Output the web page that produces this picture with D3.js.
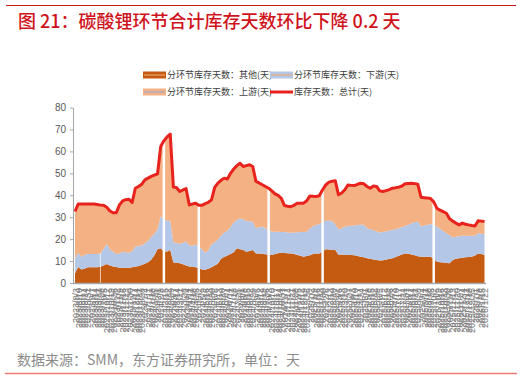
<!DOCTYPE html>
<html><head><meta charset="utf-8">
<script src="https://cdn.jsdelivr.net/npm/d3@7"></script>
<style>body{margin:0;background:#fff}svg{display:block}</style>
</head><body><svg id="c" width="522" height="380"></svg>
<script>
const dates = [
"2023/8/3","2023/8/10","2023/8/17","2023/8/24","2023/8/31","2023/9/7","2023/9/14","2023/9/21","2023/9/28","2023/10/5","2023/10/12","2023/10/19","2023/10/26","2023/11/2","2023/11/9","2023/11/16","2023/11/23","2023/11/30","2023/12/7","2023/12/14","2023/12/21","2023/12/28",
"2024/1/4","2024/1/11","2024/1/18","2024/1/25","2024/2/1","2024/2/8","2024/2/15","2024/2/22","2024/2/29","2024/3/7","2024/3/14","2024/3/21","2024/3/28","2024/4/4","2024/4/11","2024/4/18","2024/4/25","2024/5/2","2024/5/9","2024/5/16","2024/5/23","2024/5/30","2024/6/6","2024/6/13","2024/6/20","2024/6/27","2024/7/4","2024/7/11","2024/7/18","2024/7/25","2024/8/1","2024/8/8","2024/8/15","2024/8/22","2024/8/29","2024/9/5","2024/9/12","2024/9/19","2024/9/26","2024/10/3","2024/10/10","2024/10/17","2024/10/24","2024/10/31","2024/11/7","2024/11/14","2024/11/21","2024/11/28","2024/12/5","2024/12/12","2024/12/19","2024/12/26",
"2025/1/2","2025/1/9","2025/1/16","2025/1/23","2025/1/30","2025/2/6","2025/2/13","2025/2/20","2025/2/27","2025/3/6","2025/3/13","2025/3/20","2025/3/27","2025/4/3","2025/4/10","2025/4/17","2025/4/24","2025/5/1","2025/5/8","2025/5/15","2025/5/22","2025/5/29","2025/6/5","2025/6/12","2025/6/19","2025/6/26","2025/7/3","2025/7/10","2025/7/17","2025/7/24","2025/7/31","2025/8/7","2025/8/14","2025/8/21","2025/8/28","2025/9/4","2025/9/11","2025/9/18","2025/9/25","2025/10/2","2025/10/9","2025/10/16","2025/10/23","2025/10/30","2025/11/6","2025/11/13","2025/11/20","2025/11/27","2025/12/4","2025/12/11","2025/12/18","2025/12/25",
"2026/1/1","2026/1/8","2026/1/15","2026/1/22"];

// 分环节库存天数：其他(天)
const others = [4.4,7.3,6.2,6.5,7.2,7.2,7.2,7.2,7.4,8.0,8.7,8.0,7.5,7.3,7.0,7.0,7.0,7.0,7.2,7.4,7.8,8.2,8.8,9.5,10.6,12.6,15.4,15.8,14.4,14.4,15.0,9.3,9.2,9.0,8.6,8.0,7.5,7.4,7.2,6.8,6.2,6.0,6.5,7.2,8.0,8.8,11.0,11.8,12.5,13.2,14.0,15.8,15.4,15.0,14.3,14.6,15.0,13.5,13.4,13.2,13.1,13.0,12.8,13.2,13.6,13.8,13.7,13.6,13.5,13.2,12.8,12.4,12.0,12.3,12.6,13.2,13.4,13.5,14.5,15.4,15.3,15.2,15.0,12.9,13.0,12.9,12.8,12.8,12.7,12.3,12.0,11.7,11.3,11.0,10.7,10.5,10.2,10.4,10.6,11.0,11.3,11.8,12.4,13.0,13.5,13.3,13.0,12.6,12.2,12.0,12.0,12.0,12.0,11.0,9.7,9.5,9.3,9.1,9.0,10.5,11.0,11.3,11.5,11.7,11.8,12.0,12.5,13.5,13.2,12.8];
// 分环节库存天数：下游(天)
const downstream = [6.6,6.5,5.8,6.3,6.0,6.0,6.0,6.0,6.0,7.5,9.1,7.4,6.7,5.9,6.5,7.3,7.0,6.8,7.3,9.2,9.1,9.0,9.2,9.8,10.4,9.9,9.1,14.7,14.4,14.0,13.4,9.3,9.0,8.8,9.8,10.9,9.7,9.6,10.4,9.7,9.2,7.8,8.3,10.3,10.6,11.0,10.6,11.2,11.3,12.3,13.6,13.0,14.1,14.0,14.1,13.5,12.9,11.5,12.0,12.5,11.9,11.2,10.6,10.2,9.8,9.5,9.5,9.4,9.4,9.8,10.3,10.8,11.3,11.1,12.2,12.8,13.0,13.4,13.5,13.0,13.1,13.2,11.5,11.6,11.9,12.7,13.2,13.3,13.5,14.1,14.5,14.8,13.7,13.5,13.3,13.0,12.8,12.9,12.9,12.9,12.9,12.8,12.6,12.5,12.5,13.3,14.2,15.1,15.8,13.8,14.2,14.6,14.9,15.4,16.0,15.2,14.3,13.6,12.8,10.4,10.1,10.0,10.0,9.8,9.7,9.5,9.0,9.3,9.3,9.5];
// 分环节库存天数：上游(天)
const upstream = [21.6,22.2,24.0,23.2,22.8,22.8,22.8,22.6,22.1,19.9,16.7,17.4,17.8,18.8,22.1,23.1,24.0,24.4,22.2,26.6,27.1,27.8,29.0,28.5,27.6,26.7,25.3,31.7,36.0,38.2,39.5,25.1,25.3,23.9,24.0,24.1,18.4,19.0,18.8,18.9,20.0,22.4,22.0,20.4,25.0,25.7,25.2,24.8,23.6,24.5,24.4,24.7,25.1,24.1,25.1,25.8,25.2,21.3,20.2,19.1,19.0,19.0,18.6,17.2,16.5,15.3,12.1,12.0,11.9,12.4,13.3,13.2,13.1,14.1,14.9,13.5,13.0,13.0,14.5,16.3,17.6,18.0,20.1,15.7,16.1,16.9,18.7,18.4,18.2,18.6,19.0,18.7,19.0,18.7,20.2,20.5,19.0,18.4,18.6,18.7,19.0,18.8,18.7,18.7,19.2,18.8,18.3,17.6,17.0,13.3,12.7,12.1,11.6,10.6,8.4,8.5,8.9,9.1,7.5,7.3,6.2,5.2,5.8,5.3,5.0,4.7,4.5,5.6,5.7,5.7];
// 库存天数：总计(天)
const total = [32.6,36,36,36,36,36,36,35.8,35.5,35.4,34.5,32.8,32,32,35.6,37.4,38,38.2,36.7,43.2,44,45,47,47.8,48.6,49.2,49.8,62.2,64.8,66.6,67.9,43.7,43.5,41.7,42.4,43,35.6,36,36.4,35.4,35.4,36.2,36.8,37.9,43.6,45.5,46.8,47.8,47.4,50,52,53.5,54.6,53.1,53.5,53.9,53.1,46.3,45.6,44.8,44,43.2,42,40.6,39.9,38.6,35.3,35,34.8,35.4,36.4,36.4,36.4,37.5,39.7,39.5,39.4,39.9,42.5,44.7,46,46.4,46.6,40.2,41,42.5,44.7,44.5,44.4,45,45.5,45.2,44,43.2,44.2,44,42,41.7,42.1,42.6,43.2,43.4,43.7,44.2,45.2,45.4,45.5,45.3,45,39.1,38.9,38.7,38.5,37,34.1,33.2,32.5,31.8,29.3,28.2,27.3,26.5,27.3,26.8,26.5,26.2,26,28.4,28.2,28];

// weeks with missing breakdown data (shown as white gaps)
const gapDates = ["2023/9/28","2024/2/15","2024/5/2","2024/10/3","2025/1/30","2025/10/2"];
const yTicks = [0,10,20,30,40,50,60,70,80];
const seriesNames = ["分环节库存天数：其他(天)","分环节库存天数：下游(天)","分环节库存天数：上游(天)","库存天数：总计(天)"];
const titleText = "图 21：碳酸锂环节合计库存天数环比下降 0.2 天";
const sourceText = "数据来源：SMM，东方证券研究所，单位：天";

const C_OTH = "#C55A11", C_DOWN = "#B4C7E7", C_UP = "#F4B183", C_TOT = "#E8231D";
const FONT = "'Liberation Sans', Arial, 'Noto Sans CJK SC', sans-serif";
const CJK = "'Noto Sans CJK SC', sans-serif";

const svg = d3.select("#c");
svg.append("rect").attr("width",522).attr("height",380).attr("fill","#fff");

// header / footer
svg.append("line").attr("x1",6).attr("x2",516).attr("y1",5.5).attr("y2",5.5).attr("stroke","#C8161E").attr("stroke-width",1);
svg.append("text").attr("x",18).attr("y",28).text(titleText)
  .attr("font-family",CJK).attr("font-size",18).attr("font-weight",500).attr("fill","#D0121B");
svg.append("text").attr("x",17).attr("y",365).text(sourceText)
  .attr("font-family",CJK).attr("font-size",14).attr("fill","#8C8C8C");
svg.append("line").attr("x1",5).attr("x2",517).attr("y1",373.5).attr("y2",373.5).attr("stroke","#F07A74").attr("stroke-width",1.5);

const data = dates.map((d,i)=>({i, d, others:others[i], downstream:downstream[i], upstream:upstream[i], total:total[i]}));
const x = d3.scaleLinear().domain([0, dates.length-1]).range([75, 484.5]);
const y = d3.scaleLinear().domain([0, 80]).range([283, 107.5]);

const stack = d3.stack().keys(["others","downstream","upstream"]);
const layers = stack(data);
const colors = [C_OTH, C_DOWN, C_UP];
const area = d3.area().x((d,i)=>x(i)).y0(d=>y(d[0])).y1(d=>y(d[1]));
const g = svg.append("g");
layers.forEach((L,k)=>{
  g.append("path").datum(L).attr("d",area).attr("fill",colors[k]);
});

// white gaps
gapDates.forEach((gd,j)=>{
  const i = dates.indexOf(gd);
  const top = j===0 ? others[i]+downstream[i] : total[i];
  g.append("line").attr("x1",x(i)).attr("x2",x(i)).attr("y1",y(0)).attr("y2",y(top))
    .attr("stroke","#fff").attr("stroke-width", j===0?1:2.5).attr("opacity", j===0?0.7:1);
});

// total line
g.append("path").datum(data).attr("fill","none").attr("stroke",C_TOT).attr("stroke-width",3)
  .attr("stroke-linejoin","round")
  .attr("d", d3.line().x(d=>x(d.i)).y(d=>y(d.total)));

// y axis
const yAxis = d3.axisLeft(y).tickValues(yTicks).tickSize(3).tickSizeOuter(0).tickPadding(4);
const ya = svg.append("g").attr("transform","translate(73,0)").call(yAxis);
ya.select(".domain").attr("stroke","#A6A6A6");
ya.selectAll(".tick line").attr("stroke","#A6A6A6");
ya.selectAll("text").attr("font-family",FONT).attr("font-size",10).attr("fill","#595959");

// x axis
const xAxis = d3.axisBottom(x).tickValues(d3.range(dates.length)).tickFormat(i=>dates[i]).tickSize(0).tickSizeOuter(0);
const xa = svg.append("g").attr("transform","translate(0,283)").call(xAxis);
xa.select(".domain").attr("stroke","#A6A6A6").attr("stroke-width",1.5).attr("d","M73,0.5H486");
xa.selectAll(".tick text").attr("font-family",FONT).attr("font-size",9).attr("fill","#7A7A7A")
  .attr("text-anchor","end").attr("transform","translate(0,5) rotate(-90)").attr("x",0).attr("y",0).attr("dy","0.35em");

// legend
const leg = svg.append("g").attr("font-family",CJK).attr("font-size",9).attr("fill","#404040");
const legItems = [
  {name:seriesNames[0], fill:C_OTH, line:"#F4B183", lx:143, ly:75},
  {name:seriesNames[1], fill:C_DOWN, line:"#F4A460", lx:270, ly:75},
  {name:seriesNames[2], fill:C_UP, line:"#8FAADC", lx:143, ly:92},
  {name:seriesNames[3], fill:null, line:C_TOT, lx:270, ly:92}
];
legItems.forEach(it=>{
  if(it.fill){
    leg.append("rect").attr("x",it.lx).attr("y",it.ly-3.5).attr("width",23).attr("height",7).attr("fill",it.fill);
    leg.append("line").attr("x1",it.lx+1).attr("x2",it.lx+22).attr("y1",it.ly).attr("y2",it.ly).attr("stroke",it.line).attr("stroke-width",1);
  } else {
    leg.append("line").attr("x1",it.lx).attr("x2",it.lx+23).attr("y1",it.ly).attr("y2",it.ly).attr("stroke",it.line).attr("stroke-width",3);
  }
  leg.append("text").attr("x",it.lx+24).attr("y",it.ly).attr("dy","0.35em").text(it.name);
});
</script></body></html>
